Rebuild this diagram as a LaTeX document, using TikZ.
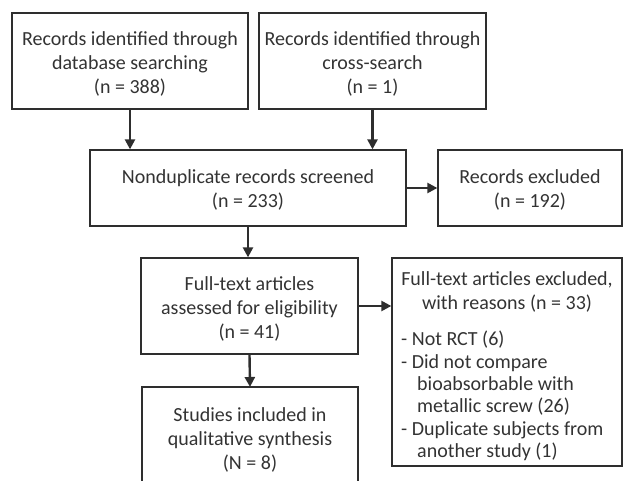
\documentclass[tikz,border=0pt]{standalone}
\usepackage{fontspec}
\setmainfont{Carlito}
\usetikzlibrary{arrows.meta}
\definecolor{ln}{HTML}{2E2E2E}
\definecolor{tx}{HTML}{333333}
\tikzset{
  box/.style={draw=ln, line width=1.3pt, inner sep=0pt},
  txt/.style={inner sep=0pt, align=center, text=tx, font=\fontsize{20}{24}\selectfont},
  arr/.style={draw=ln, line width=2.4pt, -{Triangle[length=10pt,width=10pt]}},
}
\begin{document}
\begin{tikzpicture}[x=1pt,y=-1pt]
\useasboundingbox (0,0) rectangle (624,481);
\node[box, minimum width=236, minimum height=96] (b1) at (130,61) {};
\node[txt] (t1) at ([yshift=-3pt]b1.center) {Records identified through\\database searching\\(n = 388)};
\node[box, minimum width=227, minimum height=96] (b2) at (372.5,61) {};
\node[txt] (t2) at ([yshift=-3pt]b2.center) {Records identified through\\cross-search\\(n = 1)};
\node[box, minimum width=316, minimum height=76] (b3) at (248,188) {};
\node[txt] (t3) at ([yshift=-2pt]b3.center) {Nonduplicate records screened\\(n = 233)};
\node[box, minimum width=184, minimum height=76] (b4) at (530,188) {};
\node[txt] (t4) at ([yshift=-2pt]b4.center) {Records excluded\\(n = 192)};
\node[box, minimum width=217, minimum height=96] (b5) at (249.5,306) {};
\node[txt] (t5) at ([yshift=-3pt]b5.center) {Full-text articles\\assessed for eligibility\\(n = 41)};
\node[box, minimum width=230, minimum height=208] (b6) at (507,362) {};
\node[txt] (t6) at (507,292) {Full-text articles excluded,\\with reasons (n = 33)};
\node[txt, align=left, anchor=west, font=\fontsize{20}{22.4}\selectfont] (t6l) at (401,396)
  {- Not RCT (6)\\
   - Did not compare\\
   \hspace*{16pt}bioabsorbable with\\
   \hspace*{16pt}metallic screw (26)\\
   - Duplicate subjects from\\
   \hspace*{16pt}another study (1)};
\coordinate (b7nw) at (142,387);
\coordinate (b7ne) at (358,387);
\coordinate (b7n) at (250,387);
\draw[ln, line width=1.3pt] (142,490) -- (b7nw) -- (b7ne) -- (358,490);
\node[txt] (t7) at (250,439.5) {Studies included in\\qualitative synthesis\\(N = 8)};
\draw[arr] (b1.south) -- (b1.south |- b3.north);
\draw[arr] (b2.south) -- (b2.south |- b3.north);
\draw[arr] (b3.east) -- (b4.west);
\draw[arr] (b3.south) -- (b3.south |- b5.north);
\draw[arr] (b5.east) -- (b5.east -| b6.west);
\draw[arr] (b5.south) -- (b7n);
\end{tikzpicture}
\end{document}
